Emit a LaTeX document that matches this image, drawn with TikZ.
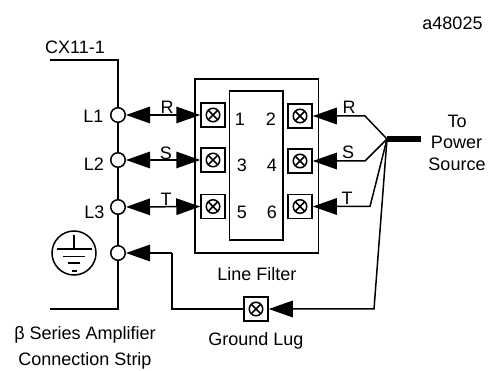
\documentclass[tikz,border=0pt]{standalone}
\usepackage{fontspec}
\setmainfont{Liberation Sans}
\usetikzlibrary{arrows.meta}
\tikzset{
  x=1pt,y=-1pt,
  wire/.style={line width=1.5pt,line join=miter},
  tip/.style={-{Triangle[length=24pt,width=16.5pt]},line width=1.5pt,shorten >=0pt},
  tiptwo/.style={{Triangle[length=24pt,width=16.5pt]}-{Triangle[length=24pt,width=16.5pt]},line width=1.5pt},
  conn/.style={circle,draw,line width=1.5pt,fill=white,minimum size=14.5pt,inner sep=0pt},
  lug/.style={rectangle,draw,line width=1.5pt,minimum size=24pt,inner sep=0pt},
  lab/.style={font=\fontsize{18pt}{20pt}\selectfont,inner sep=0pt,text=black,anchor=base},
  cross/.style={circle,draw,line width=1.5pt,minimum size=13.5pt,inner sep=0pt,
    path picture={\draw[line width=1.5pt] (path picture bounding box.south west)--(path picture bounding box.north east)
      (path picture bounding box.north west)--(path picture bounding box.south east);}},
}
\begin{document}
\begin{tikzpicture}
\useasboundingbox (0,0) rectangle (490,371);
\fill[white] (0,0) rectangle (490,371);
% filter
\node[rectangle,draw,line width=1.5pt,minimum width=123.5pt,minimum height=174pt,inner sep=0pt] (outer) at (256.8,166) {};
\node[rectangle,draw,line width=1.2pt,minimum width=53.5pt,minimum height=149pt,inner sep=0pt] (inner) at (256.3,165.5) {};
% connection points
\coordinate (cxs) at (50,60);
\coordinate (cxc) at (118,60);
\coordinate (bs) at (50,309);
\coordinate (bc) at (118,309);
\node[conn] (l1) at (118,115) {};
\node[conn] (l2) at (118,160) {};
\node[conn] (l3) at (118,207) {};
\node[conn] (l4) at (118,253) {};
\draw[wire] (cxs)--(cxc)--(l1);
\draw[wire] (l1)--(l2);
\draw[wire] (l2)--(l3);
\draw[wire] (l3)--(l4);
\draw[wire] (l4)--(bc)--(bs);
% lugs
\foreach \n/\x/\y in {a/213/115,b/213/160,c/213/206.5,d/300/116,e/300/161,f/300/206.5,g/256/309}{
  \node[lug,fill=white] (\n) at (\x,\y) {};
  \node[cross] (\n c) at (\x,\y) {};
}
% junction
\coordinate (j) at (387,139);
\coordinate (je) at (421,139);
\coordinate (kr) at (365,116);
\coordinate (ks) at (365,161);
\coordinate (kt) at (370,206.5);
\coordinate (kg) at (374,309);
\coordinate (kh) at (172,309);
\coordinate (ki) at (172,253);
\draw[line width=6pt] (j)--(je);
\draw[tiptwo] (l1)--(a);
\draw[tiptwo] (l2)--(b);
\draw[tiptwo] (l3)--(c);
\draw[tip] (j)--(kr)--(d);
\draw[tip] (j)--(ks)--(e);
\draw[tip] (j)--(kt)--(f);
\draw[tip] (j)--(kg)--(g);
\draw[wire] (g)--(kh)--(ki);
\draw[tip] (ki)--(l4);
% ground symbol
\node[circle,draw,line width=1.5pt,minimum size=44pt,inner sep=0pt] (gnd) at (74,253) {};
\coordinate (g0) at (74,235);
\coordinate (g1) at (74,249);
\draw[wire] (g0)--(g1);
\draw[wire] (57,249)--(92,249);
\draw[wire] (63,256.5)--(85,256.5);
\draw[wire] (68,263)--(80,263);
\draw[wire] (72,271)--(77,271);
% labels
\node[lab] at (452.5,30) {a48025};
\node[lab] at (75,54) {CX11-1};
\node[lab] at (93.5,123) {L1};
\node[lab] at (94,171) {L2};
\node[lab] at (94.5,219) {L3};
\node[lab] at (167,114) {R};
\node[lab] at (166,160) {S};
\node[lab] at (166,206) {T};
\node[lab] at (349,114) {R};
\node[lab] at (348,159) {S};
\node[lab] at (347,205) {T};
\node[lab] at (240,126) {1};
\node[lab] at (271,126) {2};
\node[lab] at (242,172) {3};
\node[lab] at (272,172) {4};
\node[lab] at (242,219) {5};
\node[lab] at (272,219) {6};
\node[lab] at (257,281) {Line Filter};
\node[lab] at (256,345) {Ground Lug};
\node[lab] at (457,128) {To};
\node[lab] at (456.5,149) {Power};
\node[lab] at (457,171) {Source};
\node[lab] at (85,340) {β Series Amplifier};
\node[lab] at (85,365) {Connection Strip};
\end{tikzpicture}
\end{document}
